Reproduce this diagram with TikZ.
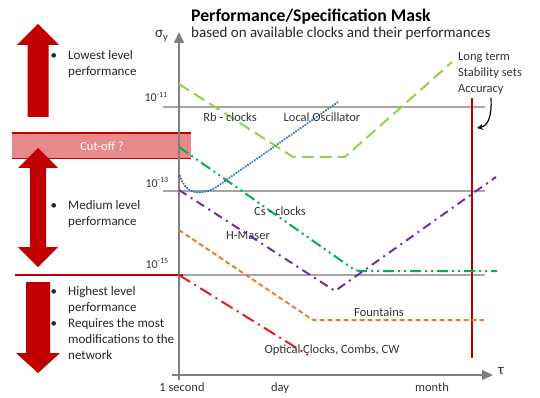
\documentclass[tikz,border=0pt]{standalone}
\usepackage{fontspec}
\setmainfont{Carlito}
\usetikzlibrary{arrows.meta,positioning}
\definecolor{darkred}{HTML}{C00000}
\definecolor{cutpink}{HTML}{E8898B}
\definecolor{rbgreen}{HTML}{92D050}
\definecolor{csgreen}{HTML}{00B050}
\definecolor{maser}{HTML}{7030A0}
\definecolor{fountain}{HTML}{ED7D31}
\definecolor{oscblue}{HTML}{2E75B6}
\definecolor{optred}{HTML}{E0201B}
\tikzset{
    bullets/.style={
           anchor=base west,
           align=left,
           inner sep=0pt,
           text=black!85,
           font=\fontsize{13}{16}\selectfont
           },
    clocklabel/.style={
           inner sep=0pt,
           text=black!80,
           font=\fontsize{12.5}{15}\selectfont
           },
    ticklabel/.style={
           anchor=base east,
           inner sep=0pt,
           text=black!80,
           font=\fontsize{12}{14}\selectfont
           },
    levelline/.style={
           draw=black!35, line width=1.2pt
           },
    bigarrow/.style={
           fill=darkred, draw=none
           },
    axis/.style={
           draw=black!50, line width=1.8pt
           },
    clockline/.style={
           line width=2pt
           }
}
\newcommand{\bul}{\llap{\textbullet\hspace{11pt}}}

\begin{document}
\begin{tikzpicture}[x=1pt,y=-1pt]
\useasboundingbox (0,0) rectangle (540,398);
%% cut-off band and the three level arrows
   \fill[cutpink] (12,133) rectangle (191,159);
   \draw[darkred, line width=1.5pt] (12,133) -- (191,133);
   \draw[darkred, line width=1pt] (12,159) -- (191,159);
   \node[text=white, font=\fontsize{12.5}{15}\selectfont] (cut) at (102,146) {Cut-off ?};
   \draw[darkred, line width=1.5pt] (15,275) -- (183,275);
   \path[bigarrow] (27.5,117) -- (27.5,45) -- (17,45) -- (38,24) -- (59,45) -- (48.5,45) -- (48.5,117) -- cycle;
   \path[bigarrow] (38,148) -- (58,168) -- (46,168) -- (46,247) -- (58,247) -- (38,267)
        -- (18,247) -- (30,247) -- (30,168) -- (18,168) -- cycle;
   \path[bigarrow] (26,282) -- (50,282) -- (50,353) -- (60,353) -- (38,373) -- (16,353) -- (26,353) -- cycle;
%% bullet texts (placed by the baseline of their last line)
   \node[bullets] (low) at (68,76) {\bul Lowest level\\performance};
   \node[bullets] (med) at (68,225) {\bul Medium level\\performance};
   \node[bullets] (high) at (68,359) {\bul Highest level\\performance\\\bul Requires the most\\modifications to the\\network};
%% title
   \node[anchor=base west, inner sep=0pt, font=\fontsize{17.7}{20}\selectfont\bfseries] (title) at (191,22) {Performance/Specification Mask};
   \node[anchor=base west, inner sep=0pt, text=black!85, font=\fontsize{15}{17}\selectfont] (sub) at (191,38) {based on available clocks and their performances};
%% level lines
   \draw[levelline] (163,107) -- (485,107);
   \draw[levelline] (163,191) -- (485,191);
   \draw[levelline] (183,275) -- (485,275);
   \node[ticklabel] (e11) at (168,102) {10\textsuperscript{-11}};
   \node[ticklabel] (e13) at (169,187) {10\textsuperscript{-13}};
   \node[ticklabel] (e15) at (169,268) {10\textsuperscript{-15}};
%% axes
   \coordinate (o) at (179,380);
   \coordinate (ytop) at (179,32);
   \coordinate (xl) at (172,375);
   \coordinate (xr) at (493,375);
   \draw[axis, -{Triangle[length=11pt,width=10pt]}] (o) -- (ytop);
   \draw[axis, -{Triangle[length=11pt,width=10pt]}] (xl) -- (xr);
   \node[anchor=base west, text=black!80, font=\fontsize{15}{17}\selectfont, inner sep=0pt] (sig) at (155,38) {σ\textsubscript{y}};
   \node[anchor=base west, text=black!80, font=\fontsize{15}{17}\selectfont, inner sep=0pt] (tau) at (498,374) {τ};
   \node[clocklabel, anchor=base] (sec) at (182,391) {1 second};
   \node[clocklabel, anchor=base] (day) at (280,391) {day};
   \node[clocklabel, anchor=base] (month) at (432,391) {month};
%% long term accuracy
   \coordinate (acc1) at (472,98);
   \coordinate (acc2) at (472,358);
   \draw[darkred, line width=2pt] (acc1) -- (acc2);
   \node[clocklabel, anchor=base west, align=left, font=\fontsize{12.5}{16}\selectfont] (lt) at (458,93) {Long term\\Stability sets\\Accuracy};
   \coordinate (cstart) at (491,98);
   \coordinate (cend) at (477,128);
   \draw[black, line width=1.2pt, -{Stealth[length=6pt,width=6pt]}] (cstart) .. controls (492,116) and (488,126) .. (cend);
%% clock curves
   \draw[clockline, rbgreen, dash pattern=on 12pt off 6pt] (179,84) -- (293,157) -- (345,157) -- (452,62);
   \draw[clockline, csgreen, dash pattern=on 11pt off 4pt on 2pt off 4pt on 2pt off 4pt, rounded corners=4pt] (179,147) -- (356,271) -- (497,271);
   \draw[clockline, maser, dash pattern=on 9pt off 5pt on 2pt off 5pt] (179,190) -- (335,291) -- (496,177);
   \draw[clockline, fountain, dash pattern=on 5pt off 3pt] (179,230) -- (313,320) -- (484,320);
   \draw[clockline, optred, dash pattern=on 13pt off 5pt on 2pt off 5pt] (179,275) -- (308,355);
   \draw[clockline, oscblue, line width=2.3pt, dash pattern=on 0.1pt off 2.7pt, line cap=round] (180,176) .. controls (186,194) and (198,196) .. (215,188) -- (338,102);
%% clock names
   \node[clocklabel] (rb) at (230,117) {Rb - clocks};
   \node[clocklabel] (lo) at (322,117) {Local Oscillator};
   \node[clocklabel] (cs) at (280,211) {Cs - clocks};
   \node[clocklabel] (hm) at (248,236) {H-Maser};
   \node[clocklabel] (fo) at (379,312) {Fountains};
   \node[clocklabel] (oc) at (332,350) {Optical Clocks, Combs, CW};
\end{tikzpicture}
\end{document}
